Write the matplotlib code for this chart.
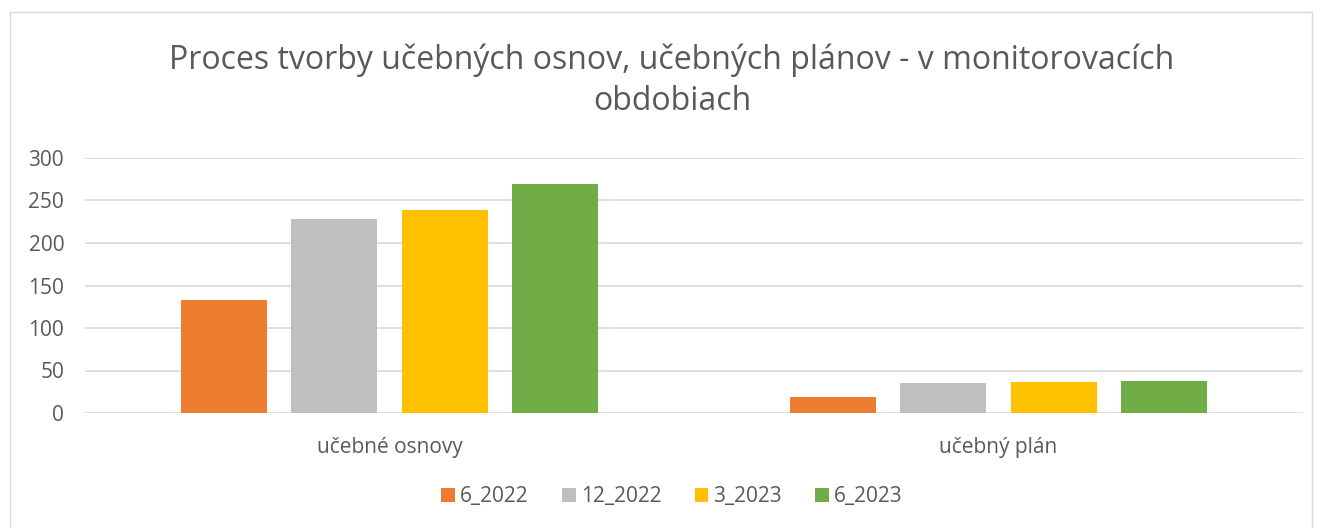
import matplotlib.pyplot as plt
import numpy as np
from matplotlib.patches import Rectangle

categories = ['učebné osnovy', 'učebný plán']
series = ['6_2022', '12_2022', '3_2023', '6_2023']
values = {
    '6_2022': [133, 19],
    '12_2022': [228, 35],
    '3_2023': [239, 37],
    '6_2023': [269, 38],
}
colors = ['#ED7D31', '#BFBFBF', '#FFC000', '#70AD47']

plt.rcParams['font.family'] = ['Open Sans', 'DejaVu Sans']
txt = '#595959'

fig = plt.figure(figsize=(13.23, 5.28), dpi=100)
ax = fig.add_axes([85/1323, 115/528, 1218/1323, 255/528])

x = np.arange(len(categories))
pitch = 0.1814
width = 0.141
for i, s in enumerate(series):
    ax.bar(x + (i - 1.5)*pitch, values[s], width, color=colors[i], label=s, zorder=3)

ax.set_xlim(-0.5, 1.5)
ax.set_ylim(0, 300)
ax.set_yticks(range(0, 301, 50))
ax.grid(axis='y', color='#D9D9D9', linewidth=1.2, zorder=0)
for sp in ax.spines.values():
    sp.set_visible(False)
ax.tick_params(axis='y', length=0, labelsize=15, labelcolor=txt, pad=15)
ax.set_xticks(x)
ax.set_xticklabels(categories)
ax.tick_params(axis='x', length=0, labelsize=15, labelcolor=txt, pad=17)

fig.text(0.508, 0.847, 'Proces tvorby učebných osnov, učebných plánov - v monitorovacích\nobdobiach',
         ha='center', va='center', fontsize=23, color=txt, linespacing=1.3)

fig.legend(loc='center', bbox_to_anchor=(0.508, 0.059), ncol=4, frameon=False,
           fontsize=15, labelcolor=txt, handlelength=0.65, handleheight=0.65,
           handletextpad=0.25, columnspacing=1.6)

fig.patches.append(Rectangle((10/1323, -0.01), 1302/1323, 1 - 12/528 + 0.01,
                             transform=fig.transFigure, fill=False,
                             edgecolor='#D9D9D9', linewidth=1))

fig.savefig('out.png', dpi=100)
